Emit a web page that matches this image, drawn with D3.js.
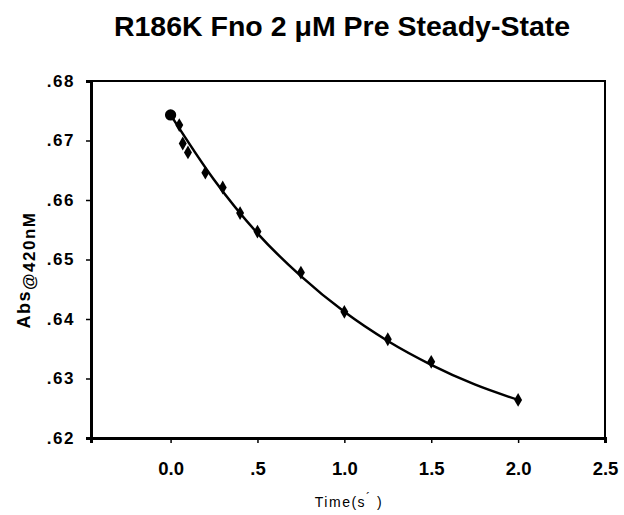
<!DOCTYPE html>
<html>
<head>
<meta charset="utf-8">
<script src="https://cdn.jsdelivr.net/npm/d3@7"></script>
<style>
  body { margin: 0; background: #fff; }
  svg text { font-family: "Liberation Sans", Arial, sans-serif; }
</style>
</head>
<body>
<div id="chart"></div>
<script>
// measured points (time in s, absorbance at 420 nm)
var times = [0.0, 0.05, 0.07, 0.1, 0.2, 0.3, 0.4, 0.5, 0.75, 1.0, 1.25, 1.5, 2.0];
var absValues = [0.6743, 0.6726, 0.6695, 0.6680, 0.6646, 0.6621, 0.6578, 0.6547, 0.6478, 0.6412, 0.6366, 0.6328, 0.6264];

// fitted curve
var fitTimes = [0.0, 0.25, 0.5, 0.75, 1.0, 1.25, 1.5, 1.75, 2.0];
var fitValues = [0.6743, 0.6634, 0.6544, 0.6472, 0.6412, 0.6363, 0.6323, 0.6290, 0.6264];

// tick labels
var xTicks = [0.0, 0.5, 1.0, 1.5, 2.0, 2.5];
var xTickLabels = ["0.0", ".5", "1.0", "1.5", "2.0", "2.5"];
var yTicks = [0.62, 0.63, 0.64, 0.65, 0.66, 0.67, 0.68];
var yTickLabels = [".62", ".63", ".64", ".65", ".66", ".67", ".68"];

var width = 624, height = 515;
var plotLeft = 91, plotRight = 605, plotTop = 81, plotBottom = 438;

var svg = d3.select("#chart").append("svg")
    .attr("width", width)
    .attr("height", height);

//scales
var xScale = d3.scaleLinear().domain([-0.458, 2.5]).range([plotLeft, plotRight]);
var yScale = d3.scaleLinear().domain([0.62, 0.68]).range([plotBottom, plotTop]);

//title
svg.append("text")
    .attr("x", 342)
    .attr("y", 36)
    .attr("text-anchor", "middle")
    .attr("font-size", 28.5)
    .attr("font-weight", "bold")
    .text("R186K Fno 2 \u03bcM Pre Steady-State");

//frame (top and right)
svg.append("rect")
    .attr("x", plotLeft).attr("y", plotTop)
    .attr("width", plotRight - plotLeft).attr("height", plotBottom - plotTop)
    .attr("fill", "none").attr("stroke", "#000").attr("stroke-width", 2);

//Y axis
var yAxis = d3.axisLeft(yScale)
    .tickValues(yTicks)
    .tickSize(5)
    .tickFormat(function(d, i){ return yTickLabels[i]; });
var gy = svg.append("g")
    .attr("transform", "translate(" + plotLeft + ",0)")
    .call(yAxis);
gy.select(".domain").attr("stroke-width", 3);
gy.selectAll(".tick line").attr("stroke-width", 1.5);
gy.selectAll("text")
    .attr("font-size", 17).attr("font-weight", "bold")
    .attr("letter-spacing", 1.5)
    .attr("x", -16).attr("fill", "#000");

//X axis
var xAxis = d3.axisBottom(xScale)
    .tickValues(xTicks)
    .tickSize(5)
    .tickFormat(function(d, i){ return xTickLabels[i]; });
var gx = svg.append("g")
    .attr("transform", "translate(0," + plotBottom + ")")
    .call(xAxis);
gx.select(".domain").attr("stroke-width", 3);
gx.selectAll(".tick line").attr("stroke-width", 1.5);
gx.selectAll("text")
    .attr("font-size", 18.5).attr("font-weight", "bold")
    .attr("dy", 0).attr("y", 37).attr("fill", "#000");

//axis titles
var yTitle = svg.append("text")
    .attr("transform", "translate(30,270) rotate(-90)")
    .attr("text-anchor", "middle")
    .attr("font-size", 18)
    .attr("letter-spacing", 1.5)
    .attr("font-weight", "bold");
yTitle.append("tspan").text("Abs");
yTitle.append("tspan").attr("dy", 5).attr("font-size", 17).text("@420nM");

var xTitle = svg.append("text")
    .attr("x", 349)
    .attr("y", 507)
    .attr("text-anchor", "middle")
    .attr("letter-spacing", 1.5)
    .attr("font-size", 14);
xTitle.append("tspan").text("Time(s");
xTitle.append("tspan").attr("dy", -5).attr("font-size", 12).text("\u00b4");
xTitle.append("tspan").attr("dy", 5).text(" )");

//fit line
var fitData = fitTimes.map(function(t, i){ return {t: t, v: fitValues[i]}; });
var line = d3.line()
    .x(function(d){ return xScale(d.t); })
    .y(function(d){ return yScale(d.v); })
    .curve(d3.curveMonotoneX);
svg.append("path")
    .datum(fitData)
    .attr("d", line)
    .attr("fill", "none")
    .attr("stroke", "#000")
    .attr("stroke-width", 2.5);

//points
var pts = times.map(function(t, i){ return {t: t, v: absValues[i]}; });
svg.selectAll(".pt")
    .data(pts)
    .enter()
    .append("path")
        .attr("class", "pt")
        .attr("transform", function(d){ return "translate(" + xScale(d.t) + "," + yScale(d.v) + ")"; })
        .attr("d", function(d, i){
            return i == 0 ? d3.symbol(d3.symbolCircle, 100)() : d3.symbol(d3.symbolDiamond, 55)();
        })
        .attr("fill", "#000");
</script>
</body>
</html>
